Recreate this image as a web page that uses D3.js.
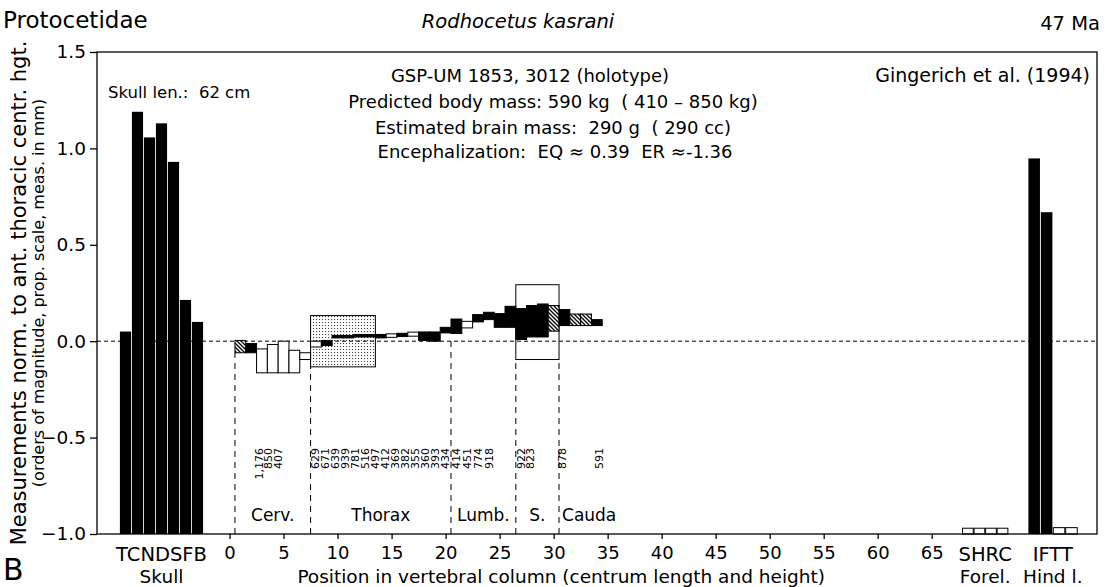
<!DOCTYPE html>
<html><head><meta charset="utf-8">
<script src="https://cdn.jsdelivr.net/npm/d3@7"></script>
<style>body{margin:0;background:#fff} text{font-family:"DejaVu Sans",sans-serif;fill:#000;white-space:pre}</style>
</head><body><svg id="c" width="1105" height="587"></svg>
<script>
// ---------- data ----------
const skullCats = ["T","C","N","D","S","F","B"];
const skullVals = [0.05, 1.19, 1.057, 1.13, 0.93, 0.214, 0.10];
const skullFill = ["black","black","black","black","black","black","black"];
const forelCats = ["S","H","R","C"];
const forelVals = [-0.97, -0.97, -0.97, -0.97];
const forelFill = ["white","white","white","white"];
const hindCats = ["I","F","T","T"];
const hindVals = [0.948, 0.669, -0.967, -0.967];
const hindFill = ["black","black","white","white"];

const vertPos = [1,2,3,4,5,6,7,8,9,10,11,12,13,14,15,16,17,18,19,20,21,22,23,24,25,26,27,28,29,30,31,32,33,34];
const vertHigh = [0.004,-0.012,-0.04,-0.017,0.0,-0.047,-0.06,0.0,0.004,0.03,0.03,0.035,0.035,0.035,0.038,0.041,0.047,0.048,0.048,0.072,0.115,0.103,0.138,0.15,0.143,0.181,0.169,0.185,0.193,0.185,0.164,0.141,0.141,0.112];
const vertLow  = [-0.06,-0.06,-0.164,-0.164,-0.164,-0.164,-0.095,-0.03,-0.022,0.017,0.017,0.022,0.022,0.017,0.02,0.024,0.026,0.004,0.0,0.043,0.04,0.069,0.10,0.112,0.072,0.072,0.009,0.022,0.022,0.052,0.081,0.081,0.081,0.081];
const vertFill = ["hatch","black","white","white","white","white","white","white","black","black","black","black","black","black","white","black","white","black","black","black","black","white","black","black","black","black","black","black","black","hatch","black","hatch","hatch","black"];

const regionNames = ["Cerv.","Thorax","Lumb.","S.","Cauda"];
const regionBounds = [0.5, 7.5, 20.5, 26.5, 30.5, 34.5];
const boundaryTop = [-0.06, -0.133, 0.0, -0.095, -0.095];

const thoraxNormBox = [7.5, 13.5, -0.133, 0.133];
const sacrumBox = [26.5, 30.5, -0.095, 0.293];

const numLabels = ["1,176","850","407","629","671","639","939","781","516","497","412","369","382","355","360","393","434","414","451","774","918","922","823","878","591"];
// label anchor, in vertebral-position units
const numVert   = [2.75,3.6,4.45, 7.9,8.83,9.76,10.69,11.62,12.55,13.48,14.41,15.34,16.27,17.2,18.13,19.06,19.99, 21,22,23,24, 27.0,27.85, 30.75, 34.2];

const xTicks = [0,5,10,15,20,25,30,35,40,45,50,55,60,65];
const yTicks = [1.5,1.0,0.5,0.0,-0.5,-1.0];

// ---------- layout ----------
const M = {l:97, r:1097, t:52, b:534};
const svg = d3.select("#c");
const x = d3.scaleLinear().domain([-12.27, 80.3]).range([M.l, M.r]);
const y = d3.scaleLinear().domain([-1, 1.5]).range([M.b, M.t]);

const defs = svg.append("defs");
const hp = defs.append("pattern").attr("id","hatch").attr("patternUnits","userSpaceOnUse")
  .attr("width",4).attr("height",4);
hp.append("rect").attr("width",4).attr("height",4).attr("fill","#fff");
hp.append("path").attr("d","M-1,-1L5,5M3,-1L5,1M-1,3L1,5").attr("stroke","#000").attr("stroke-width",1.3);
const sp = defs.append("pattern").attr("id","stip").attr("patternUnits","userSpaceOnUse")
  .attr("width",3).attr("height",3);
sp.append("rect").attr("width",3).attr("height",3).attr("fill","#fff");
sp.append("rect").attr("x",1).attr("y",1).attr("width",1.1).attr("height",1.1).attr("fill","#444");

const fillOf = f => f==="hatch" ? "url(#hatch)" : f;

// region boxes
svg.append("rect")
  .attr("x", x(sacrumBox[0])).attr("width", x(sacrumBox[1])-x(sacrumBox[0]))
  .attr("y", y(sacrumBox[3])).attr("height", y(sacrumBox[2])-y(sacrumBox[3]))
  .attr("fill","none").attr("stroke","#000").attr("stroke-width",1);
svg.append("rect")
  .attr("x", x(thoraxNormBox[0])).attr("width", x(thoraxNormBox[1])-x(thoraxNormBox[0]))
  .attr("y", y(thoraxNormBox[3])).attr("height", y(thoraxNormBox[2])-y(thoraxNormBox[3]))
  .attr("fill","url(#stip)").attr("stroke","#000").attr("stroke-width",1);

// zero line
svg.append("line").attr("x1",M.l).attr("x2",M.r).attr("y1",y(0)).attr("y2",y(0))
  .attr("stroke","#000").attr("stroke-width",1).attr("stroke-dasharray","4,3");

// boundary dashed lines
svg.selectAll(".bd").data(regionBounds.slice(0,5)).join("line")
  .attr("x1",d=>x(d)).attr("x2",d=>x(d))
  .attr("y1",y(-1)).attr("y2",(d,i)=>y(boundaryTop[i]))
  .attr("stroke","#000").attr("stroke-width",1).attr("stroke-dasharray","6,5");

// vertebrae
svg.selectAll(".v").data(vertPos).join("rect")
  .attr("x",d=>x(d-0.5)).attr("width",d=>x(d+0.5)-x(d-0.5))
  .attr("y",(d,i)=>y(vertHigh[i])).attr("height",(d,i)=>Math.max(1,y(vertLow[i])-y(vertHigh[i])))
  .attr("fill",(d,i)=>fillOf(vertFill[i])).attr("stroke","#000").attr("stroke-width",1);

// group bars
function group(cats, vals, fills, start, w){
  const b = d3.scaleBand().domain(d3.range(cats.length))
    .range([x(start), x(start + cats.length*w)]).paddingInner(0.07);
  svg.append("g").selectAll("rect").data(vals).join("rect")
    .attr("x",(d,i)=>b(i)).attr("width",b.bandwidth())
    .attr("y",d=>y(d)).attr("height",d=>y(-1)-y(d))
    .attr("fill",(d,i)=>fills[i]).attr("stroke",(d,i)=>fills[i]==="white"?"#000":"none").attr("stroke-width",1);
  return (x(start) + x(start + cats.length*w))/2;
}
const cSkull = group(skullCats, skullVals, skullFill, -10.15, 1.1);
const cForel = group(forelCats, forelVals, forelFill, 67.85, 1.05);
const cHind  = group(hindCats, hindVals, hindFill, 73.95, 1.13);

// frame
svg.append("rect").attr("x",M.l).attr("y",M.t).attr("width",M.r-M.l).attr("height",M.b-M.t)
  .attr("fill","none").attr("stroke","#000").attr("stroke-width",1.3);

// axes
const ya = svg.append("g").attr("transform",`translate(${M.l},0)`)
  .call(d3.axisLeft(y).tickValues(yTicks).tickFormat(d3.format(".1f")).tickSize(7).tickSizeOuter(0));
ya.select(".domain").remove();
ya.selectAll("text").attr("font-size",18.5).attr("font-family","DejaVu Sans").attr("dx","-1");
ya.selectAll("line").attr("stroke-width",1.3);
const xa = svg.append("g").attr("transform",`translate(0,${M.b})`)
  .call(d3.axisBottom(x).tickValues(xTicks).tickFormat(d3.format("d")).tickSize(5).tickSizeOuter(0));
xa.select(".domain").remove();
xa.selectAll("text").attr("font-size",18).attr("font-family","DejaVu Sans").attr("dy","0.95em");
xa.selectAll("line").attr("stroke-width",1.3);

const t = (txt, px, py, size, anchor, extra) => {
  const e = svg.append("text").attr("x",px).attr("y",py).attr("font-size",size).attr("text-anchor",anchor||"start").text(txt);
  if (extra) extra(e);
  return e;
};
// category labels
t(skullCats.join(""), cSkull, 561, 19.5, "middle");
t(forelCats.join(""), cForel, 561, 19.5, "middle");
t(hindCats.join(""), cHind, 561, 19.5, "middle");
t("Skull", cSkull, 583, 18.5, "middle");
t("Forel.", cForel, 583, 18.5, "middle");
t("Hind l.", cHind, 583, 18.5, "middle");
t("Position in vertebral column (centrum length and height)", x(30.7), 583, 18.5, "middle");

// region labels
regionNames.forEach((n,i)=>{
  if (n==="Cauda") t(n, x(regionBounds[i])+3, 521, 17, "start");
  else t(n, x((regionBounds[i]+regionBounds[i+1])/2), 521, 17, "middle");
});

// number labels
svg.selectAll(".nl").data(numLabels).join("text")
  .attr("transform",(d,i)=>`translate(${x(numVert[i])+4},448) rotate(-90)`)
  .attr("text-anchor","end").attr("font-size",11).text(d=>d);

// y label
t("Measurements norm. to ant. thoracic centr. hgt.", 0, 0, 21, "middle", e=>e.attr("transform","translate(26,293) rotate(-90)"));
t("(orders of magnitude, prop. scale, meas. in mm)", 0, 0, 16, "middle", e=>e.attr("transform","translate(44,293) rotate(-90)"));

// titles
t("Protocetidae", 3, 28, 23, "start");
t("Rodhocetus kasrani", 518, 28, 19.5, "middle", e=>e.attr("font-style","italic"));
t("47 Ma", 1100, 30, 19.5, "end");
t("B", 3, 580, 30, "start");

// annotations
t("Skull len.:  62 cm", 108, 98, 16.5, "start");
t("GSP-UM 1853, 3012 (holotype)", 530, 82, 18, "middle");
t("Predicted body mass: 590 kg  ( 410 – 850 kg)", 553, 108, 18, "middle");
t("Estimated brain mass:  290 g  ( 290 cc)", 553, 134, 18, "middle");
t("Encephalization:  EQ ≈ 0.39  ER ≈-1.36", 555, 158, 18, "middle");
t("Gingerich et al. (1994)", 1090, 82, 19, "end");
</script></body></html>
